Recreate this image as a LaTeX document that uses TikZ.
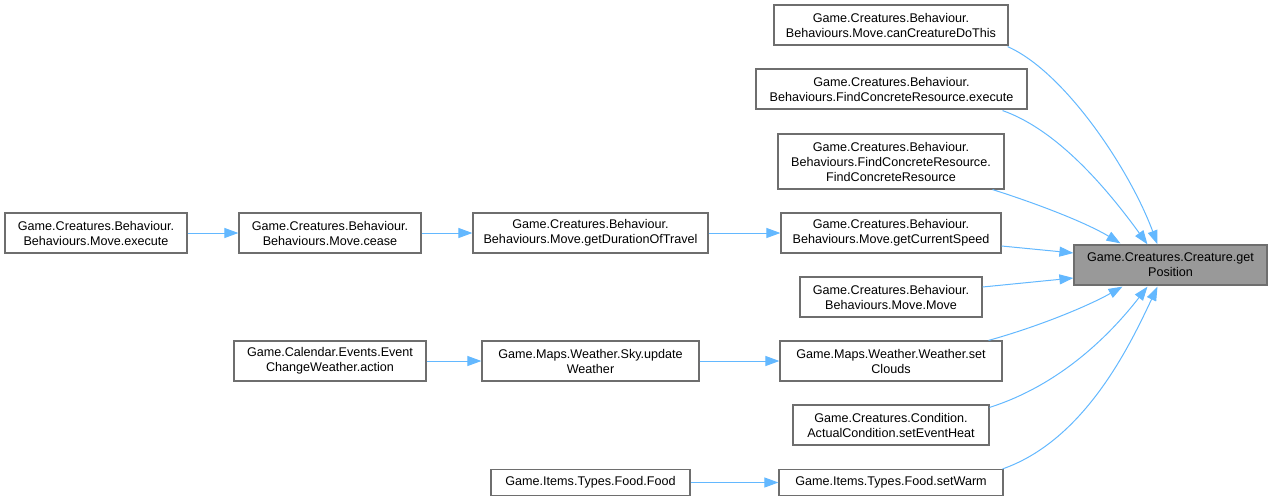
\documentclass[tikz,border=0pt]{standalone}
\usepackage{fontspec}
\setmainfont{Liberation Sans}
\usetikzlibrary{arrows.meta,calc}
\definecolor{edgeblue}{HTML}{63B8FF}
\definecolor{nodeborder}{HTML}{6E6E6E}
\definecolor{nodegray}{HTML}{999999}
\begin{document}
\begin{tikzpicture}[x=1pt,y=-1pt,
  box/.style={draw=nodeborder, fill=white, line width=1.2pt, inner sep=0pt, align=center,
    font=\fontsize{12.6}{15}\selectfont},
  target/.style={box, fill=nodegray},
  call/.style={draw=edgeblue, line width=1pt, -{Triangle[length=14pt,width=10pt]}}
]
\useasboundingbox (0,0) rectangle (1272,501);
% target
\node[target, minimum width=193pt, minimum height=40pt] (t) at (1170.5,265) {Game.Creatures.Creature.get\\Position};
% right column
\node[box, minimum width=234pt, minimum height=40pt] (n1) at (891,25) {Game.Creatures.Behaviour.\\Behaviours.Move.canCreatureDoThis};
\node[box, minimum width=271pt, minimum height=40pt] (n2) at (891.5,89) {Game.Creatures.Behaviour.\\Behaviours.FindConcreteResource.execute};
\node[box, minimum width=226pt, minimum height=55pt] (n3) at (891,161.5) {Game.Creatures.Behaviour.\\Behaviours.FindConcreteResource.\\FindConcreteResource};
\node[box, minimum width=220pt, minimum height=40pt] (n4) at (891,233) {Game.Creatures.Behaviour.\\Behaviours.Move.getCurrentSpeed};
\node[box, minimum width=182pt, minimum height=40pt] (n5) at (891,297) {Game.Creatures.Behaviour.\\Behaviours.Move.Move};
\node[box, minimum width=222pt, minimum height=40pt] (n6) at (891,361) {Game.Maps.Weather.Weather.set\\Clouds};
\node[box, minimum width=196pt, minimum height=40pt] (n7) at (891,425) {Game.Creatures.Condition.\\ActualCondition.setEventHeat};
\node[box, minimum width=224pt, minimum height=26pt] (n8) at (891,482.5) {Game.Items.Types.Food.setWarm};
% middle column
\node[box, minimum width=235pt, minimum height=40pt] (m1) at (590.5,233) {Game.Creatures.Behaviour.\\Behaviours.Move.getDurationOfTravel};
\node[box, minimum width=217pt, minimum height=40pt] (m2) at (590.5,361) {Game.Maps.Weather.Sky.update\\Weather};
\node[box, minimum width=199pt, minimum height=26pt] (m3) at (590.5,482.5) {Game.Items.Types.Food.Food};
% left columns
\node[box, minimum width=182pt, minimum height=40pt] (l1) at (330,233) {Game.Creatures.Behaviour.\\Behaviours.Move.cease};
\node[box, minimum width=192pt, minimum height=40pt] (l2) at (330,361) {Game.Calendar.Events.Event\\ChangeWeather.action};
\node[box, minimum width=182pt, minimum height=40pt] (ll) at (96,233) {Game.Creatures.Behaviour.\\Behaviours.Move.execute};
% edges into target
\draw[call] ($(n1.south east)+(-1,1)$) .. controls (1065,72) and (1130,170) .. ($(t.north)+(-13,0)$);
\draw[call] ($(n2.south east)+(-25,1)$) .. controls (1058,130) and (1108,190) .. ($(t.north)+(-23,0)$);
\draw[call] ($(n3.south east)+(-12,0)$) .. controls (1035,203) and (1085,222) .. ($(t.north)+(-50,-1)$);
\draw[call] ($(n4.east)+(0,13)$) -- ($(t.west)+(0,-12)$);
\draw[call] ($(n5.east)+(0,-10)$) -- ($(t.west)+(0,13)$);
\draw[call] ($(n6.north east)+(-14,0)$) .. controls (1040,326) and (1088,306) .. ($(t.south)+(-48,1)$);
\draw[call] ($(n7.north east)+(0,3)$) .. controls (1060,385) and (1110,335) .. ($(t.south)+(-23,1)$);
\draw[call] ($(n8.north east)+(-1,0)$) .. controls (1085,440) and (1130,345) .. ($(t.south)+(-13,1)$);
% horizontal chains
\draw[call] (ll.east) -- (l1.west);
\draw[call] (l1.east) -- (m1.west);
\draw[call] (m1.east) -- (n4.west);
\draw[call] (l2.east) -- (m2.west);
\draw[call] (m2.east) -- (n6.west);
\draw[call] (m3.east) -- (n8.west);
\end{tikzpicture}
\end{document}
